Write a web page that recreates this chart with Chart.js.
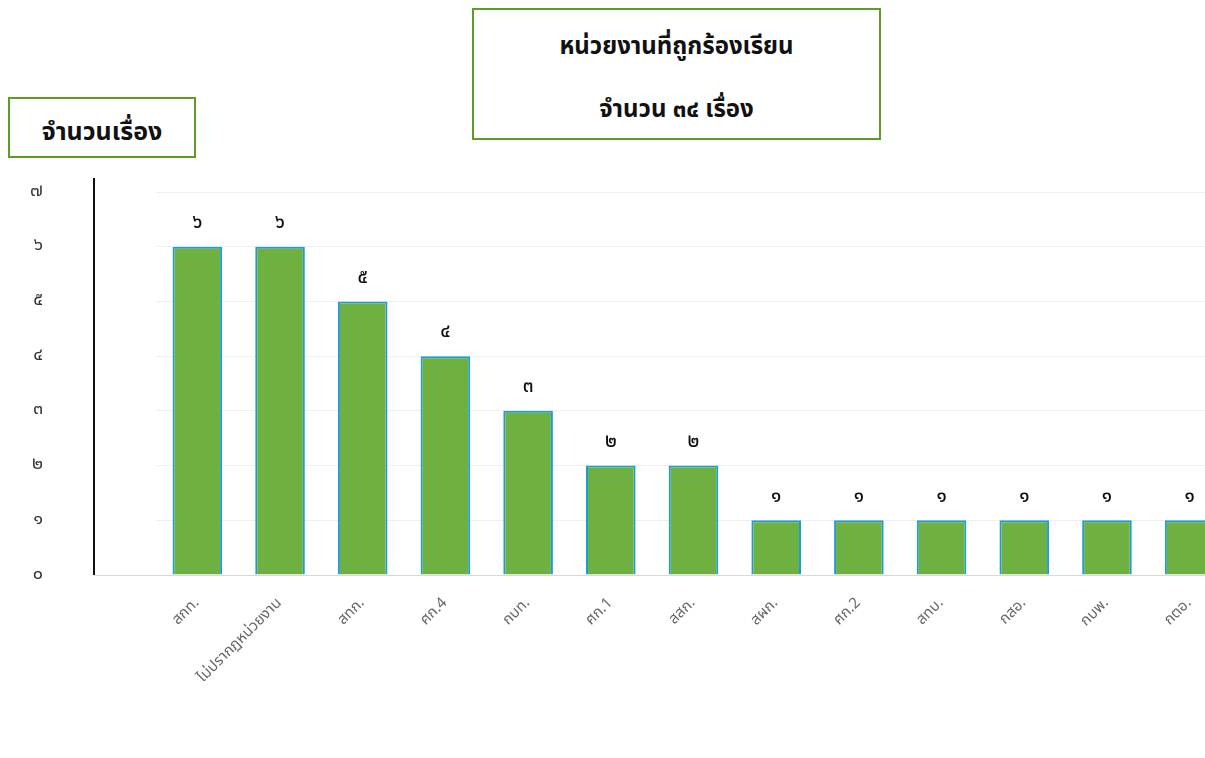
<!DOCTYPE html>
<html>
<head>
<meta charset="utf-8">
<script src="https://cdn.jsdelivr.net/npm/chart.js@4/dist/chart.umd.min.js"></script>
<style>
  html, body { margin: 0; padding: 0; background: #fff; overflow: hidden; width: 1205px; height: 758px; }
  #wrap { position: relative; width: 1205px; height: 758px; overflow: hidden; }
  canvas { position: absolute; left: 0; top: 0; }
  .box { position: absolute; border: 2px solid #5c9e22; background: #fff; box-sizing: border-box;
         font-family: "Noto Sans Thai", "Noto Sans", "DejaVu Sans", sans-serif; font-weight: bold; color: #111; text-align: center; }
  #mainTitle { left: 472px; top: 8px; width: 409px; height: 132px; font-size: 24px; }
  #mainTitle .l1 { position: absolute; left: 0; right: 0; top: 19px; }
  #mainTitle .l2 { position: absolute; left: 0; right: 0; top: 82px; }
  #yTitle { left: 8px; top: 97px; width: 188px; height: 61px; font-size: 25px; line-height: 66px; }
</style>
</head>
<body>
<div id="wrap">
  <canvas id="c" width="1231" height="758"></canvas>
  <div class="box" id="mainTitle"><div class="l1">หน่วยงานที่ถูกร้องเรียน</div><div class="l2">จำนวน ๓๔ เรื่อง</div></div>
  <div class="box" id="yTitle">จำนวนเรื่อง</div>
</div>
<script>
const categories = ['สกท.', 'ไม่ปรากฏหน่วยงาน', 'สทก.', 'ศก.4', 'กบท.', 'ศก.1', 'สสก.', 'สผก.', 'ศก.2', 'สทบ.', 'กสอ.', 'กบพ.', 'กตอ.'];
const complaintCounts = [6, 6, 5, 4, 3, 2, 2, 1, 1, 1, 1, 1, 1];
const yTickLabels = ['๐', '๑', '๒', '๓', '๔', '๕', '๖', '๗'];
const thaiDigits = ['๐', '๑', '๒', '๓', '๔', '๕', '๖', '๗', '๘', '๙'];

function toThai(n) {
  return String(n).split('').map(d => thaiDigits[+d] !== undefined ? thaiDigits[+d] : d).join('');
}

const FONT = '"Noto Sans Thai", "Noto Sans", "DejaVu Sans", sans-serif';

const extras = {
  id: 'extras',
  beforeDatasetsDraw(chart) {
    const { ctx, chartArea, scales } = chart;
    const y0 = scales.y.getPixelForValue(0);
    const yTop = scales.y.getPixelForValue(7) - 14;
    const axX = chartArea.left - 62;
    ctx.save();
    ctx.strokeStyle = '#d9d9d9';
    ctx.lineWidth = 1;
    ctx.beginPath();
    ctx.moveTo(axX, y0 + 0.5);
    ctx.lineTo(chartArea.right, y0 + 0.5);
    ctx.stroke();
    ctx.strokeStyle = '#111';
    ctx.lineWidth = 2;
    ctx.beginPath();
    ctx.moveTo(axX, yTop);
    ctx.lineTo(axX, y0);
    ctx.stroke();
    ctx.restore();
  },
  afterDatasetsDraw(chart) {
    const { ctx } = chart;
    const meta = chart.getDatasetMeta(0);
    ctx.save();
    ctx.fillStyle = '#111';
    ctx.font = '500 19px ' + FONT;
    ctx.textAlign = 'center';
    ctx.textBaseline = 'bottom';
    meta.data.forEach((bar, i) => {
      ctx.fillText(toThai(complaintCounts[i]), bar.x, bar.y - 13);
    });
    ctx.restore();
  }
};

new Chart(document.getElementById('c'), {
  type: 'bar',
  data: {
    labels: categories,
    datasets: [{
      data: complaintCounts,
      backgroundColor: '#6fb140',
      borderColor: '#1a9ed8',
      borderWidth: 2,
      barPercentage: 0.6,
      categoryPercentage: 1
    }]
  },
  options: {
    responsive: false,
    animation: false,
    layout: { padding: { top: 192, left: 0, right: 0, bottom: 0 } },
    plugins: { legend: { display: false }, tooltip: { enabled: false }, title: { display: false } },
    scales: {
      x: {
        offset: true,
        grid: { display: false, drawTicks: false },
        border: { display: false },
        ticks: {
          autoSkip: false,
          minRotation: 45,
          maxRotation: 45,
          padding: 20,
          color: '#666',
          font: { family: FONT, size: 15 }
        },
        afterFit(scale) { scale.height = 183; }
      },
      y: {
        min: 0,
        max: 7,
        grid: { color: '#efefef', lineWidth: 1, drawTicks: false },
        border: { display: false },
        ticks: {
          stepSize: 1,
          padding: 113,
          color: '#333',
          font: { family: FONT, size: 18 },
          callback: (v) => yTickLabels[v]
        },
        afterFit(scale) { scale.width = 156; }
      }
    }
  },
  plugins: [extras]
});
</script>
</body>
</html>
